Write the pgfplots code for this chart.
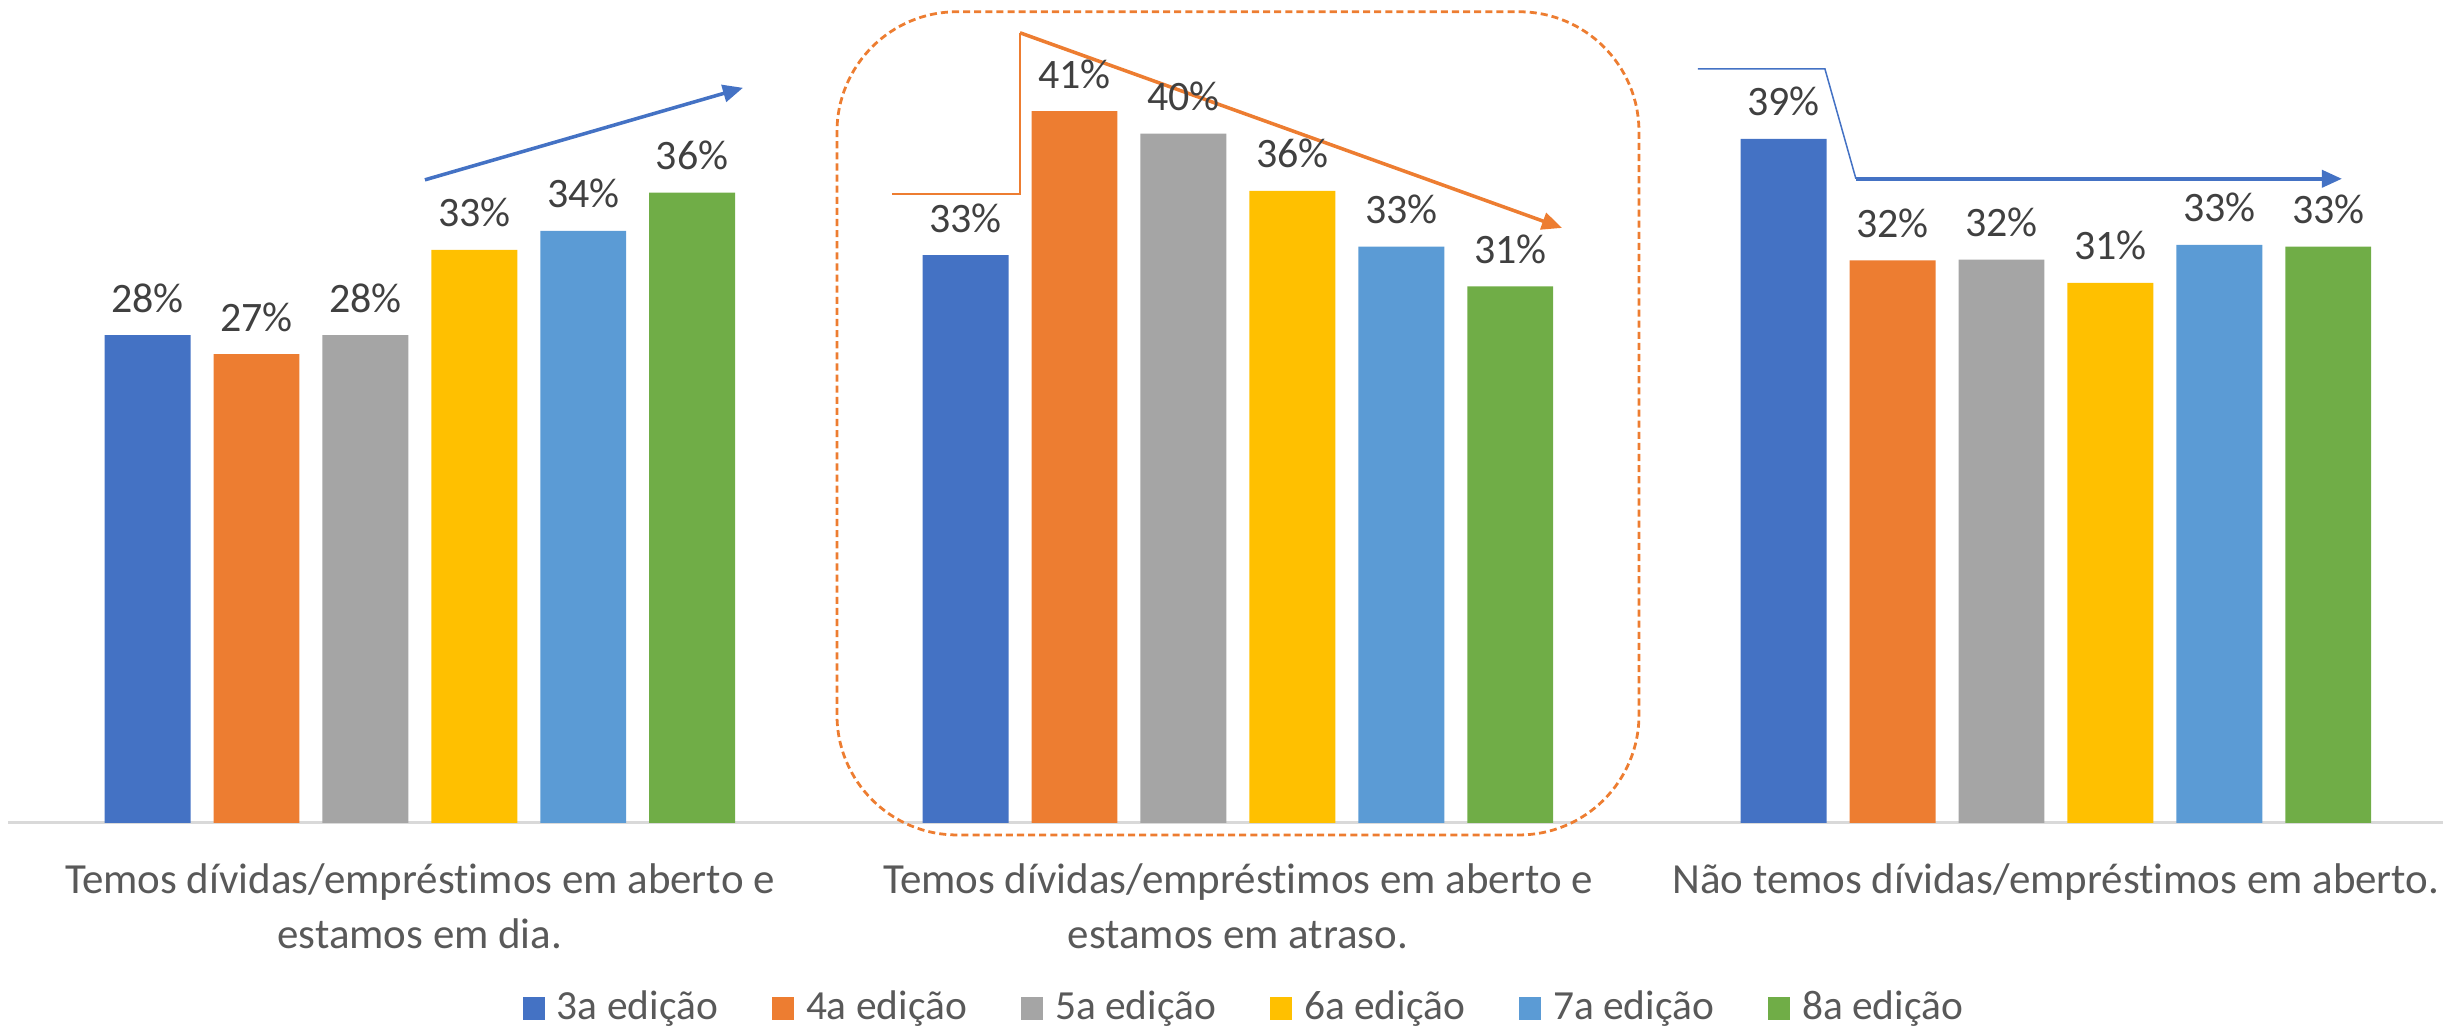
\documentclass[border=0pt]{standalone}
\usepackage{fontspec}
\setmainfont[Ligatures=CommonOff]{Carlito}
\usepackage{pgfplots}
\pgfplotsset{compat=1.18}
\usetikzlibrary{arrows.meta}

\definecolor{c1}{HTML}{4472C4}
\definecolor{c2}{HTML}{ED7D31}
\definecolor{c3}{HTML}{A5A5A5}
\definecolor{c4}{HTML}{FFC000}
\definecolor{c5}{HTML}{5B9BD5}
\definecolor{c6}{HTML}{70AD47}
\definecolor{lbl}{HTML}{404040}
\definecolor{tick}{HTML}{595959}
\definecolor{axgray}{HTML}{D9D9D9}

\pgfplotsset{sq legend/.style={legend image code/.code={\fill[##1] (0cm,-0.08cm) rectangle (0.153cm,0.08cm);}}}

\begin{document}
\begin{tikzpicture}
\begin{axis}[
    at={(0,0)}, anchor=south west, scale only axis,
    width=16.945cm, height=5.727cm,
    ybar=0.16cm, bar width=0.598cm,
    xmin=-0.5035, xmax=2.4732, ymin=0, ymax=47.4,
    axis x line*=bottom, axis y line=none,
    x axis line style={draw=axgray, line width=0.6pt},
    xtick={0,1,2}, major tick length=0pt,
    xticklabels={{Temos dívidas/empréstimos em aberto e\\estamos em dia.},
                 {Temos dívidas/empréstimos em aberto e\\estamos em atraso.},
                 {Não temos dívidas/empréstimos em aberto.}},
    xticklabel style={align=center, text=tick, anchor=north, yshift=-0.16cm,
        font=\fontsize{8.5}{10.8}\selectfont},
    /pgf/number format/assume math mode=true,
    nodes near coords={\pgfmathprintnumber[fixed,precision=0]{\pgfplotspointmeta}\%},
    nodes near coords style={text=lbl, anchor=base, yshift=0.16cm,
        font=\fontsize{8.3}{10}\selectfont},
    legend columns=6,
    legend style={at={(0.2111,-0.226)}, anchor=west, draw=none, inner sep=0pt,
        column sep=0pt, nodes={inner sep=0pt}, text=tick,
        font=\fontsize{8.2}{9.8}\selectfont},
    clip=false,
]
\addplot[fill=c1, draw=none, sq legend] coordinates {(0,28.1) (1,32.7) (2,39.4)};
\addplot[fill=c2, draw=none, sq legend] coordinates {(0,27.0) (1,41.0) (2,32.4)};
\addplot[fill=c3, draw=none, sq legend] coordinates {(0,28.1) (1,39.7) (2,32.45)};
\addplot[fill=c4, draw=none, sq legend] coordinates {(0,33.0) (1,36.4) (2,31.1)};
\addplot[fill=c5, draw=none, sq legend] coordinates {(0,34.1) (1,33.2) (2,33.3)};
\addplot[fill=c6, draw=none, sq legend] coordinates {(0,36.3) (1,30.9) (2,33.2)};
\addlegendentry{\makebox[1.58cm][l]{\hspace{0.083cm}3a edição}}
\addlegendentry{\makebox[1.58cm][l]{\hspace{0.083cm}4a edição}}
\addlegendentry{\makebox[1.58cm][l]{\hspace{0.083cm}5a edição}}
\addlegendentry{\makebox[1.58cm][l]{\hspace{0.083cm}6a edição}}
\addlegendentry{\makebox[1.58cm][l]{\hspace{0.083cm}7a edição}}
\addlegendentry{\makebox[1.58cm][l]{\hspace{0.083cm}8a edição}}

% annotations
\draw[c1, line width=0.7pt, -{Triangle[length=0.14cm, width=0.12cm]}]
    (axis cs:0.0062,37.04) -- (axis cs:0.395,42.34);
\draw[c2, line width=0.3pt] (axis cs:0.5771,36.23) -- (axis cs:0.7336,36.23) -- (axis cs:0.7336,45.51);
\draw[c2, line width=0.7pt, -{Triangle[length=0.14cm, width=0.12cm]}]
    (axis cs:0.7336,45.51) -- (axis cs:1.3962,34.27);
\draw[c2, line width=0.55pt, dash pattern=on 1.4pt off 0.8pt, rounded corners=0.835cm]
    (axis cs:0.5099,-0.691) rectangle (axis cs:1.4903,46.72);
\draw[c1, line width=0.3pt] (axis cs:1.5624,43.43) -- (axis cs:1.7176,43.43) -- (axis cs:1.7555,37.10);
\draw[c1, line width=0.7pt, -{Triangle[length=0.14cm, width=0.12cm]}]
    (axis cs:1.7555,37.10) -- (axis cs:2.3496,37.10);
\end{axis}
\pgfresetboundingbox
\path[use as bounding box] (-0.0557cm,-1.4335cm) rectangle (16.945cm,5.727cm);
\end{tikzpicture}
\end{document}
